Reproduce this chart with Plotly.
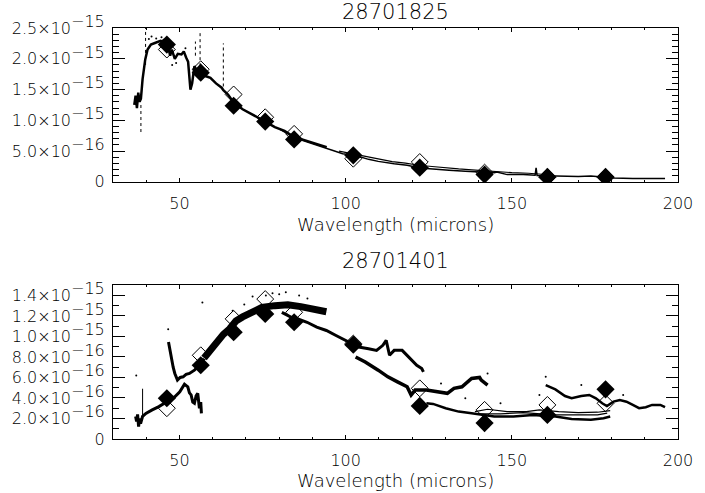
import plotly.graph_objects as go

SCALE = 1e-15
FONT = "DejaVu Sans"
WEIGHT = 200

# ---------------- data (flux in units of 1e-15) ----------------
bands = [46.2, 56.4, 66.3, 75.8, 84.5, 102.3, 122.3, 141.8, 160.7, 178.2]

top_filled = [2.23, 1.774, 1.237, 0.979, 0.689, 0.431, 0.231, 0.118, 0.081, 0.081]
top_open = [2.15, 1.83, 1.42, 1.05, 0.78, 0.376, 0.323, 0.15, 0.075, 0.075]

bot_filled = [0.397, 0.719, 1.041, 1.219, 1.138, 0.919, 0.322, 0.155, 0.235, 0.484]
bot_open = [0.30, 0.816, 1.171, 1.364, 1.235, 0.93, 0.494, 0.284, 0.332, 0.348]

# 28701825 spectra
t_sw_x = [36.4, 36.8, 37.2, 37.6, 38.0, 38.4, 38.9, 39.7, 40.4, 41.4, 42.8, 44.3, 45.5, 46.5,
          47.2, 47.7, 48.6, 49.5, 50.6, 51.3, 52.0, 52.6, 53.3, 53.8, 54.5, 55.3, 56.4, 57.8,
          59.3, 61.0, 62.7, 63.2, 64.6, 66.3, 69.0, 71.9, 75.8, 78.7, 81.6, 84.5,
          87.0, 89.4, 92.0, 94.3]
t_sw_y = [1.25, 1.40, 1.20, 1.45, 1.30, 1.35, 1.67, 1.99, 2.15, 2.23, 2.26, 2.29, 2.27, 2.22,
          2.05, 2.15, 2.00, 2.08, 2.07, 2.12, 2.02, 1.95, 1.50, 1.60, 1.88, 1.80, 1.77, 1.72,
          1.69, 1.60, 1.53, 1.49, 1.42, 1.29, 1.18, 1.10, 0.98, 0.89, 0.83, 0.73,
          0.69, 0.645, 0.60, 0.565]

t_lw1_x = [80.0, 84.5, 89.4, 94.3, 96.2, 99.1, 103.0, 106.9, 109.8, 114.6, 118.5, 122.4, 126.3,
           131.1, 136.0, 139.8, 144.7, 145.5, 148.6, 153.4, 157.0, 157.3, 157.6, 160.0, 164.1,
           170.0, 173.8, 180.6, 186.4, 196.1]
t_lw1_y = [0.86, 0.72, 0.63, 0.55, 0.51, 0.457, 0.43, 0.366, 0.333, 0.295, 0.27, 0.226, 0.215,
           0.19, 0.173, 0.161, 0.15, 0.16, 0.118, 0.118, 0.108, 0.226, 0.105, 0.10, 0.097,
           0.086, 0.097, 0.065, 0.054, 0.054]

t_lw2_x = [98, 102, 106, 110, 114, 118, 122, 126, 130, 134, 138, 142, 146, 150, 155, 160]
t_lw2_y = [0.50, 0.46, 0.41, 0.37, 0.33, 0.305, 0.27, 0.25, 0.225, 0.21, 0.195, 0.18, 0.16,
           0.15, 0.14, 0.12]

t_spk_x = [38.4, 38.4, None, 39.8, 39.8, None, 54.8, 54.8, None, 56.2, 56.2, None, 63.2, 63.2]
t_spk_y = [0.81, 1.25, None, 1.90, 2.50, None, 2.05, 2.28, None, 1.88, 2.43, None, 1.55, 2.25]

# 28701401 spectra
b1_x = [36.8, 37.1, 37.4, 37.7, 38.0, 38.3, 38.9, 39.9, 41.8, 43.8, 46.2, 48.6, 50.1, 51.5,
        52.5, 53.0, 53.5, 54.0, 54.5, 55.0, 55.5, 56.0, 56.4, 56.6]
b1_y = [0.22, 0.17, 0.24, 0.12, 0.20, 0.15, 0.22, 0.25, 0.284, 0.316, 0.364, 0.412, 0.461,
        0.535, 0.509, 0.45, 0.43, 0.36, 0.348, 0.42, 0.445, 0.30, 0.36, 0.25]

b2a_x = [46.7, 47.2, 47.6, 48.1, 48.6, 49.4, 50.2, 51.1, 52.0, 53.0, 54.5, 55.9, 57.4]
b2a_y = [0.945, 0.85, 0.767, 0.70, 0.639, 0.574, 0.60, 0.606, 0.63, 0.639, 0.671, 0.719, 0.784]

b2b_x = [57.4, 59.3, 61.2, 63.2, 65.1, 67.0, 69.0, 71.9, 74.8, 78.7, 82.6, 86.5, 90.4, 93.3, 94.2]
b2b_y = [0.79, 0.87, 0.945, 1.02, 1.074, 1.15, 1.19, 1.245, 1.283, 1.30, 1.309, 1.29, 1.27,
         1.25, 1.24]

b3_x = [80.8, 84.5, 85.5, 88.4, 91.3, 94.2, 97.1, 100.0, 103.9, 106.9, 109.3, 111.2, 112.2,
        113.2, 114.6, 117.0, 118.5, 120.0, 121.4, 122.9, 123.4]
b3_y = [1.235, 1.171, 1.171, 1.138, 1.09, 1.058, 1.009, 0.961, 0.896, 0.88, 0.864, 0.913,
        0.961, 0.816, 0.864, 0.864, 0.816, 0.767, 0.719, 0.687, 0.654]

b4_x = [103.0, 105.9, 109.8, 112.7, 115.6, 118.5, 119.7, 120.9, 124.3, 128.2, 130.6, 132.6,
        135.0, 137.9, 140.3, 140.8, 142.7]
b4_y = [0.80, 0.751, 0.671, 0.606, 0.557, 0.509, 0.429, 0.477, 0.477, 0.461, 0.445, 0.494,
        0.509, 0.59, 0.60, 0.574, 0.526]

b5_x = [124.3, 126.3, 130.1, 134.0, 137.9, 141.8, 144.7, 150.5, 156.3, 163.1, 168.0, 173.8,
        177.6, 179.6]
b5_y = [0.348, 0.342, 0.30, 0.267, 0.252, 0.235, 0.219, 0.219, 0.235, 0.219, 0.196, 0.187,
        0.203, 0.219]

b6_x = [138.9, 142.7, 148.6, 154.4, 158.3, 164.1, 170.0, 175.8, 179.6]
b6_y = [0.267, 0.29, 0.267, 0.267, 0.284, 0.267, 0.258, 0.261, 0.277]

b7_x = [138.9, 146.6, 153.4, 158.3, 163.1, 170.0, 175.8, 178.7]
b7_y = [0.245, 0.245, 0.258, 0.245, 0.235, 0.235, 0.235, 0.252]

b8_x = [160.2, 163.1, 166.0, 168.0, 170.9, 173.3, 175.3, 177.2, 178.6, 180.6, 182.5, 184.5,
        186.4, 188.3, 190.3, 192.2, 194.7, 196.1]
b8_y = [0.526, 0.484, 0.419, 0.397, 0.419, 0.429, 0.397, 0.348, 0.322, 0.364, 0.38, 0.364,
        0.332, 0.30, 0.31, 0.332, 0.332, 0.31]

b_spk_x = [38.9, 38.9]
b_spk_y = [0.20, 0.49]

b_dots_x = [46.6, 56.9, 37.0, 136.0, 128.7, 160.2, 142.7, 170.9, 183.5, 158.3, 146.6,
            72.0, 76.0, 78.0, 80.0, 82.0, 86.0, 88.5, 66.0, 69.5]
b_dots_y = [1.07, 1.33, 0.62, 0.397, 0.54, 0.606, 0.639, 0.526, 0.429, 0.429, 0.348,
            1.39, 1.40, 1.42, 1.41, 1.43, 1.40, 1.37, 1.25, 1.31]

t_dots_x = [40.8, 41.6, 43.0, 44.6, 45.2, 47.8, 49.0, 51.8]
t_dots_y = [2.32, 2.36, 2.33, 2.35, 2.31, 1.90, 1.93, 2.17]

top_ticks = [0, 0.5, 1.0, 1.5, 2.0, 2.5]
top_ticktext = ["0", "5.0×10", "1.0×10", "1.5×10", "2.0×10", "2.5×10"]
top_exp = ["", "−16", "−15", "−15", "−15", "−15"]
bot_ticks = [0, 0.2, 0.4, 0.6, 0.8, 1.0, 1.2, 1.4]
bot_ticktext = ["0", "2.0×10", "4.0×10", "6.0×10", "8.0×10", "1.0×10", "1.2×10", "1.4×10"]
bot_exp = ["", "−16", "−16", "−16", "−16", "−15", "−15", "−15"]

# ---------------- figure ----------------
fig = go.Figure()


def sc(vals):
    return [None if v is None else v * SCALE for v in vals]


def add_line(x, y, w, xa, ya, dash=None):
    fig.add_trace(go.Scatter(x=x, y=sc(y), mode="lines", xaxis=xa, yaxis=ya,
                             line=dict(color="black", width=w, dash=dash),
                             showlegend=False, hoverinfo="skip"))


def add_dots(x, y, xa, ya):
    fig.add_trace(go.Scatter(x=x, y=sc(y), mode="markers", xaxis=xa, yaxis=ya,
                             marker=dict(color="black", size=2),
                             showlegend=False, hoverinfo="skip"))


# top spectra
add_line(t_sw_x, t_sw_y, 2.5, "x", "y")
add_line(t_lw1_x, t_lw1_y, 1.5, "x", "y")
add_line(t_lw2_x, t_lw2_y, 1.2, "x", "y")
add_line(t_spk_x, t_spk_y, 1, "x", "y", dash="dot")
add_dots(t_dots_x, t_dots_y, "x", "y")

# bottom spectra
add_line(b1_x, b1_y, 3, "x2", "y2")
add_line(b2a_x, b2a_y, 3, "x2", "y2")
add_line(b2b_x, b2b_y, 7, "x2", "y2")
add_line(b3_x, b3_y, 3, "x2", "y2")
add_line(b4_x, b4_y, 3.5, "x2", "y2")
add_line(b5_x, b5_y, 2.5, "x2", "y2")
add_line(b6_x, b6_y, 1.2, "x2", "y2")
add_line(b7_x, b7_y, 1.2, "x2", "y2")
add_line(b8_x, b8_y, 2.5, "x2", "y2")
add_line(b_spk_x, b_spk_y, 1, "x2", "y2")
add_dots(b_dots_x, b_dots_y, "x2", "y2")

# photometry
for xa, ya, op, fi in (("x", "y", top_open, top_filled), ("x2", "y2", bot_open, bot_filled)):
    fig.add_trace(go.Scatter(x=bands, y=sc(op), mode="markers", xaxis=xa, yaxis=ya,
                             marker=dict(symbol="diamond-open", size=13, color="black",
                                         line=dict(color="black", width=1)),
                             showlegend=False, hoverinfo="skip"))
    fig.add_trace(go.Scatter(x=bands, y=sc(fi), mode="markers", xaxis=xa, yaxis=ya,
                             marker=dict(symbol="diamond", size=14, color="black",
                                         line=dict(width=0)),
                             showlegend=False, hoverinfo="skip"))


def ylabels(texts, exps):
    out = []
    for t, e in zip(texts, exps):
        if e:
            out.append(t + "<sup><span style='font-size:16px'>" + e + "</span></sup>")
        else:
            out.append(t)
    return out


tfont = dict(family=FONT, size=16, color="black", weight=WEIGHT)

xcommon = dict(range=[30, 200], tickmode="linear", tick0=0, dtick=50,
               ticks="inside", ticklen=4, tickwidth=1, tickcolor="black",
               mirror="allticks", showline=True, linecolor="black", linewidth=1,
               showgrid=False, zeroline=False,
               minor=dict(ticks="inside", dtick=10, tick0=0, ticklen=2,
                          tickcolor="black", tickwidth=1, showgrid=False),
               tickfont=tfont, ticklabelstandoff=7, ticklabeloverflow="allow")

ycommon = dict(tickmode="array", ticks="inside", ticklen=12, tickwidth=1,
               tickcolor="black", mirror="allticks", showline=True,
               linecolor="black", linewidth=1, showgrid=False, zeroline=False,
               tickfont=tfont, ticklabelstandoff=4, ticklabeloverflow="allow")

fig.update_layout(
    width=705, height=493,
    margin=dict(l=106, r=15, t=25, b=54),
    paper_bgcolor="white", plot_bgcolor="white",
    font=dict(family=FONT, color="black", weight=WEIGHT),
    xaxis=dict(anchor="y", domain=[0, 1], **xcommon),
    xaxis2=dict(anchor="y2", domain=[0, 1], **xcommon),
    yaxis=dict(anchor="x", domain=[1 - 155 / 414, 1], range=[0, 2.5 * SCALE],
               tickvals=sc(top_ticks), ticktext=ylabels(top_ticktext, top_exp),
               minor=dict(ticks="inside", tickmode="linear", dtick=1e-16, tick0=0, ticklen=6,
                          tickcolor="black", tickwidth=1, showgrid=False),
               **ycommon),
    yaxis2=dict(anchor="x2", domain=[0, 155 / 414], range=[0, 1.5 * SCALE],
                tickvals=sc(bot_ticks), ticktext=ylabels(bot_ticktext, bot_exp),
                minor=dict(ticks="inside", tickmode="linear", dtick=1e-16, tick0=0, ticklen=6,
                           tickcolor="black", tickwidth=1, showgrid=False),
                **ycommon),
)


def py(p):
    return (439 - p) / 414


ann = [
    ("28701825", py(9), 21),
    ("28701401", py(260), 21),
    ("Wavelength (microns)", py(223), 18),
    ("Wavelength (microns)", py(481), 18),
]
for text, yv, size in ann:
    fig.add_annotation(text=text, x=0.5, y=yv, xref="paper", yref="paper",
                       xanchor="center", yanchor="middle", showarrow=False,
                       font=dict(family=FONT, size=size, color="black", weight=WEIGHT))

fig.write_html("out.html", config={"displayModeBar": False},
               post_script="document.body.style.margin='0px';")
